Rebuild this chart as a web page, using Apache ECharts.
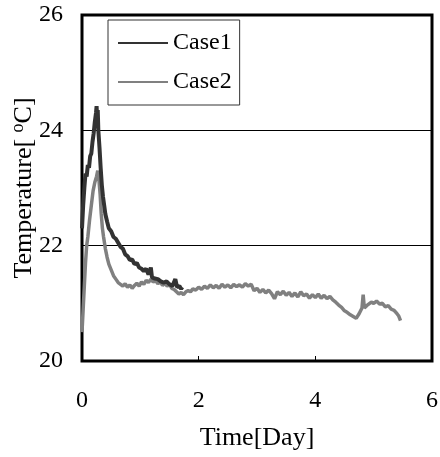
<!DOCTYPE html>
<html>
<head>
<meta charset="utf-8">
<script src="https://cdn.jsdelivr.net/npm/echarts@6/dist/echarts.min.js"></script>
<style>
  html, body { margin: 0; padding: 0; background: #fff; }
  #main { width: 440px; height: 457px; }
</style>
</head>
<body>
<div id="main"></div>
<script>
var seriesNames = ['Case1', 'Case2'];
var xTicks = [0, 2, 4, 6];
var yTicks = [20, 22, 24, 26];

var case1Time = [0.00, 0.02, 0.04, 0.06, 0.08, 0.10, 0.12, 0.14, 0.16, 0.18, 0.20, 0.22, 0.24, 0.25, 0.26, 0.27, 0.28, 0.30, 0.32, 0.34, 0.36, 0.38, 0.40, 0.43, 0.46, 0.50, 0.54, 0.58, 0.62, 0.66, 0.70, 0.74, 0.78, 0.82, 0.86, 0.90, 0.94, 0.98, 1.02, 1.06, 1.10, 1.14, 1.18, 1.20, 1.25, 1.30, 1.35, 1.40, 1.45, 1.50, 1.55, 1.60, 1.63, 1.67, 1.70, 1.72];
var case1Temp = [22.3, 22.7, 23.0, 23.25, 23.2, 23.4, 23.35, 23.55, 23.6, 23.8, 23.95, 24.15, 24.3, 24.42, 24.2, 24.35, 24.0, 23.7, 23.35, 23.05, 22.85, 22.7, 22.55, 22.42, 22.3, 22.25, 22.15, 22.12, 22.05, 21.98, 21.95, 21.85, 21.82, 21.75, 21.76, 21.68, 21.7, 21.62, 21.6, 21.56, 21.6, 21.5, 21.62, 21.45, 21.43, 21.42, 21.38, 21.36, 21.38, 21.33, 21.3, 21.42, 21.28, 21.3, 21.25, 21.28];

var case2Time = [0.00, 0.02, 0.04, 0.06, 0.08, 0.10, 0.13, 0.16, 0.19, 0.22, 0.25, 0.27, 0.29, 0.31, 0.33, 0.35, 0.37, 0.40, 0.43, 0.46, 0.50, 0.54, 0.58, 0.62, 0.66, 0.70, 0.74, 0.78, 0.82, 0.86, 0.90, 0.94, 0.98, 1.02, 1.06, 1.10, 1.14, 1.18, 1.22, 1.26, 1.30, 1.34, 1.38, 1.42, 1.46, 1.50, 1.54, 1.58, 1.62, 1.66, 1.70, 1.74, 1.78, 1.82, 1.86, 1.90, 1.95, 2.00, 2.05, 2.10, 2.15, 2.20, 2.25, 2.30, 2.35, 2.40, 2.45, 2.50, 2.55, 2.60, 2.65, 2.70, 2.75, 2.80, 2.85, 2.90, 2.95, 3.00, 3.05, 3.10, 3.15, 3.20, 3.25, 3.30, 3.35, 3.40, 3.45, 3.50, 3.55, 3.60, 3.65, 3.70, 3.75, 3.80, 3.85, 3.90, 3.95, 4.00, 4.05, 4.10, 4.15, 4.20, 4.25, 4.30, 4.35, 4.40, 4.45, 4.50, 4.55, 4.60, 4.65, 4.70, 4.75, 4.78, 4.80, 4.82, 4.84, 4.88, 4.92, 4.96, 5.00, 5.05, 5.10, 5.15, 5.20, 5.25, 5.30, 5.35, 5.40, 5.43, 5.46];
var case2Temp = [20.5, 20.9, 21.3, 21.7, 22.0, 22.15, 22.45, 22.7, 22.95, 23.1, 23.2, 23.3, 23.15, 22.9, 22.55, 22.3, 22.15, 21.95, 21.8, 21.68, 21.58, 21.48, 21.42, 21.36, 21.33, 21.3, 21.34, 21.28, 21.32, 21.26, 21.31, 21.35, 21.3, 21.37, 21.33, 21.4, 21.36, 21.42, 21.37, 21.4, 21.34, 21.38, 21.31, 21.35, 21.3, 21.33, 21.26, 21.24, 21.2, 21.16, 21.19, 21.15, 21.2, 21.22, 21.2, 21.25, 21.23, 21.28, 21.24, 21.3, 21.26, 21.32, 21.27, 21.31, 21.26, 21.33, 21.28, 21.32, 21.27, 21.33, 21.29, 21.32, 21.28, 21.34, 21.3, 21.33, 21.22, 21.26, 21.19, 21.24, 21.18, 21.23, 21.17, 21.08, 21.2, 21.15, 21.21, 21.14, 21.19, 21.12, 21.18, 21.11, 21.2, 21.13, 21.16, 21.09, 21.15, 21.1, 21.16, 21.09, 21.14, 21.08, 21.12, 21.06, 21.02, 20.97, 20.93, 20.87, 20.84, 20.8, 20.77, 20.74, 20.82, 20.88, 20.92, 21.15, 20.92, 20.96, 20.99, 21.02, 21.0, 21.04, 20.99, 21.0, 20.94, 20.96, 20.9, 20.88, 20.82, 20.78, 20.7];

function pairs(ts, vs) {
    var out = [];
    ts.forEach(function (t, i) {
        out.push([t, vs[i]]);
    });
    return out;
}

var font = 'Liberation Serif';
var chart = echarts.init(document.getElementById('main'), null, { renderer: 'canvas' });

var option = {
    animation: false,
    backgroundColor: '#fff',
    grid: {
        left: 82, right: 8, top: 15, bottom: 96,
        containLabel: false,
        outerBoundsMode: 'none',
        show: true,
        borderColor: '#000',
        borderWidth: 3,
        backgroundColor: 'transparent'
    },
    legend: {
        orient: 'vertical',
        left: 108, top: 20,
        data: seriesNames,
        icon: 'rect',
        backgroundColor: '#fff',
        borderColor: '#333',
        borderWidth: 1,
        borderRadius: 0,
        padding: [11, 8, 11, 10],
        itemWidth: 50,
        itemHeight: 2,
        itemGap: 15,
        textStyle: { fontFamily: font, fontSize: 24, color: '#000', lineHeight: 24 }
    },
    xAxis: {
        type: 'value',
        min: xTicks[0], max: xTicks[xTicks.length - 1], interval: 2,
        name: 'Time[Day]',
        nameLocation: 'middle',
        nameGap: 64,
        nameMoveOverlap: false,
        nameTextStyle: { fontFamily: font, fontSize: 26, color: '#000' },
        axisLine: { show: false },
        axisTick: { show: true, inside: true, length: 5, lineStyle: { color: '#000', width: 1 } },
        axisLabel: { fontFamily: font, fontSize: 24, color: '#000', margin: 28 },
        splitLine: { show: false }
    },
    yAxis: {
        type: 'value',
        min: yTicks[0], max: yTicks[yTicks.length - 1], interval: 2,
        name: 'Temperature[ {sup|o}C]',
        nameLocation: 'middle',
        nameGap: 43,
        nameMoveOverlap: false,
        nameTextStyle: {
            fontFamily: font, fontSize: 26, color: '#000',
            rich: {
                sup: { fontFamily: font, fontSize: 18, color: '#000', verticalAlign: 'top', padding: [0, 0, 12, 0] }
            }
        },
        axisLine: { show: false },
        axisTick: { show: false },
        axisLabel: { fontFamily: font, fontSize: 24, color: '#000', margin: 19 },
        splitLine: { show: true, lineStyle: { color: '#000', width: 1 } }
    },
    series: [
        {
            name: 'Case2',
            type: 'line',
            symbol: 'none',
            data: pairs(case2Time, case2Temp),
            lineStyle: { color: '#808080', width: 3.5 },
            itemStyle: { color: '#808080' }
        },
        {
            name: 'Case1',
            type: 'line',
            symbol: 'none',
            data: pairs(case1Time, case1Temp),
            lineStyle: { color: '#333', width: 4 },
            itemStyle: { color: '#333' }
        }
    ]
};

chart.setOption(option);
</script>
</body>
</html>
